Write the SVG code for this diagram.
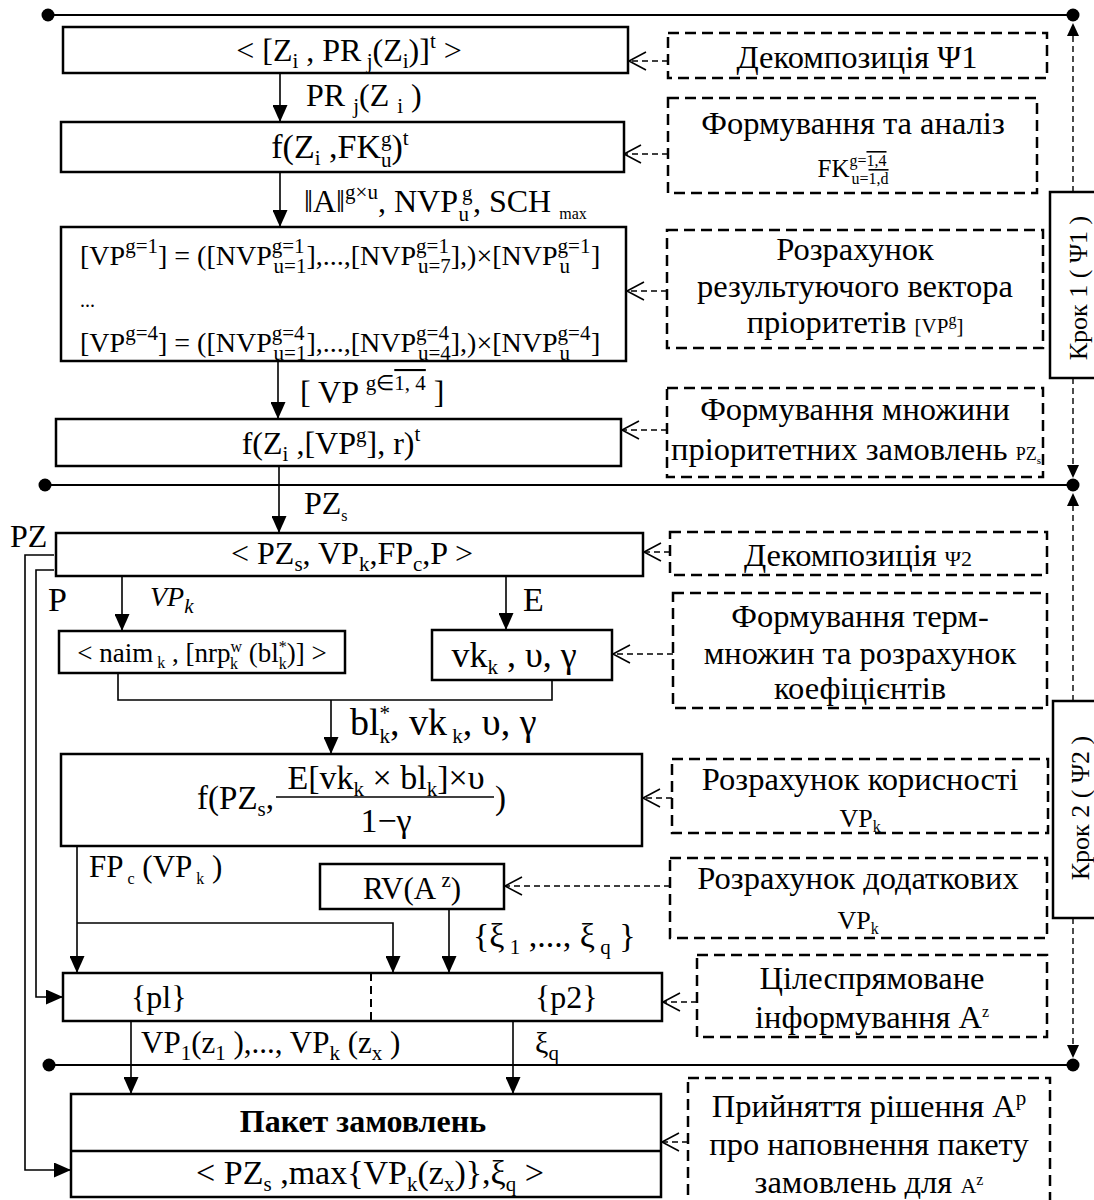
<svg xmlns="http://www.w3.org/2000/svg" width="1094" height="1200" viewBox="0 0 1094 1200">
<style>
.t{font-family:"Liberation Serif","Times New Roman",serif;font-size:32px;fill:#000}
.r{font-size:32.5px}
.b{fill:#fff;stroke:#000;stroke-width:2.5}
.d{fill:none;stroke:#000;stroke-width:2.5;stroke-dasharray:11 6}
.c{fill:none;stroke:#000;stroke-width:1.6}
.cd{fill:none;stroke:#000;stroke-width:1.4;stroke-dasharray:6 4}
.sep{fill:none;stroke:#000;stroke-width:2}
.s{font-size:21px}
.ss{font-size:16px}
</style>
<defs>
<marker id="fa" markerUnits="userSpaceOnUse" markerWidth="18" markerHeight="15" refX="17" refY="7.5" orient="auto"><path d="M0,0 L17,7.5 L0,15 z" fill="#000"/></marker>
<marker id="oa" markerUnits="userSpaceOnUse" markerWidth="20" markerHeight="22" refX="18" refY="11" orient="auto"><path d="M1,2 L18,11 L1,20" fill="none" stroke="#000" stroke-width="1.6"/></marker>
<marker id="sa" markerUnits="userSpaceOnUse" markerWidth="14" markerHeight="12" refX="13" refY="6" orient="auto"><path d="M0,0 L13,6 L0,12 z" fill="#000"/></marker>
</defs>
<rect width="1094" height="1200" fill="#fff"/>

<g id="separators">
<line class="sep" x1="48" y1="15" x2="1073" y2="15"/>
<circle cx="48" cy="15" r="6.5"/><circle cx="1073" cy="15" r="6.5"/>
<line class="sep" x1="45" y1="485" x2="1073" y2="485"/>
<circle cx="45" cy="485" r="6.5"/><circle cx="1073" cy="485" r="6.5"/>
<line class="sep" x1="49" y1="1065" x2="1073" y2="1065"/>
<circle cx="49" cy="1065" r="6.5"/><circle cx="1073" cy="1065" r="6.5"/>
</g>

<g id="connectors">
<line class="c" x1="280" y1="73" x2="280" y2="122" marker-end="url(#fa)"/>
<line class="c" x1="280" y1="172" x2="280" y2="227" marker-end="url(#fa)"/>
<line class="c" x1="278" y1="361" x2="278" y2="419" marker-end="url(#fa)"/>
<line class="c" x1="279" y1="466" x2="279" y2="533" marker-end="url(#fa)"/>
<line class="c" x1="122" y1="576" x2="122" y2="631" marker-end="url(#fa)"/>
<line class="c" x1="506" y1="576" x2="506" y2="630" marker-end="url(#fa)"/>
<polyline class="c" points="118,673 118,700 552,700 552,680"/>
<line class="c" x1="331" y1="700" x2="331" y2="754" marker-end="url(#fa)"/>
<line class="c" x1="77" y1="846" x2="77" y2="973" marker-end="url(#fa)"/>
<polyline class="c" points="77,923 393,923 393,973" marker-end="url(#fa)"/>
<line class="c" x1="449" y1="909" x2="449" y2="973" marker-end="url(#fa)"/>
<line class="c" x1="131" y1="1021" x2="131" y2="1094" marker-end="url(#fa)"/>
<line class="c" x1="513" y1="1021" x2="513" y2="1094" marker-end="url(#fa)"/>
<polyline class="c" points="54,570 36,570 36,997 63,997" marker-end="url(#fa)"/>
<polyline class="c" points="54,555 25,555 25,1170 71,1170" marker-end="url(#fa)"/>

<line class="cd" x1="668" y1="61" x2="629" y2="61" marker-end="url(#oa)"/>
<line class="cd" x1="668" y1="154" x2="624" y2="154" marker-end="url(#oa)"/>
<line class="cd" x1="667" y1="291" x2="627" y2="291" marker-end="url(#oa)"/>
<line class="cd" x1="667" y1="430" x2="622" y2="430" marker-end="url(#oa)"/>
<line class="cd" x1="670" y1="552" x2="644" y2="552" marker-end="url(#oa)"/>
<line class="cd" x1="673" y1="654" x2="613" y2="654" marker-end="url(#oa)"/>
<line class="cd" x1="672" y1="798" x2="643" y2="798" marker-end="url(#oa)"/>
<line class="cd" x1="670" y1="886" x2="505" y2="886" marker-end="url(#oa)"/>
<line class="cd" x1="697" y1="1002" x2="663" y2="1002" marker-end="url(#oa)"/>
<line class="cd" x1="688" y1="1142" x2="662" y2="1142" marker-end="url(#oa)"/>

<line class="cd" x1="1073" y1="192" x2="1073" y2="23" marker-end="url(#sa)"/>
<line class="cd" x1="1073" y1="378" x2="1073" y2="478" marker-end="url(#sa)"/>
<line class="cd" x1="1073" y1="701" x2="1073" y2="493" marker-end="url(#sa)"/>
<line class="cd" x1="1073" y1="918" x2="1073" y2="1058" marker-end="url(#sa)"/>
</g>

<g id="box1">
<rect class="b" x="63" y="27" width="565" height="46"/>
<text class="t" x="349" y="61" text-anchor="middle">&lt; [Z<tspan class="s" dy="7">i</tspan><tspan dy="-7"> , PR</tspan><tspan class="s" dy="7"> j</tspan><tspan dy="-7">(Z</tspan><tspan class="s" dy="7">i</tspan><tspan dy="-7">)]</tspan><tspan class="s" dy="-13">t</tspan><tspan dy="13"> &gt;</tspan></text>
</g>
<g id="label-pr">
<text class="t" x="306" y="106">PR <tspan class="s" dy="7"> j</tspan><tspan dy="-7">(Z </tspan><tspan class="s" dy="7">i</tspan><tspan dy="-7"> )</tspan></text>
</g>

<g id="box2">
<rect class="b" x="61" y="122" width="563" height="50"/>
<text class="t" x="340" y="158" text-anchor="middle" style="font-size:34px">f(Z<tspan class="s" dy="7">i</tspan><tspan dy="-7"> ,FK</tspan><tspan class="s" dy="-12">g</tspan><tspan class="s" dx="-10.5" dy="21">u</tspan><tspan dy="-9">)</tspan><tspan class="s" dy="-13">t</tspan><tspan dy="13"></tspan></text>
</g>
<g id="label-a">
<text class="t" x="304" y="212">‖A‖<tspan class="s" dy="-13">g×u</tspan><tspan dy="13">, NVP</tspan><tspan class="s" dx="4" dy="-12">g</tspan><tspan class="s" dx="-14" dy="21">u</tspan><tspan dx="4" dy="-9">, SCH </tspan><tspan class="ss" dy="7"> max</tspan></text>
</g>

<g id="box3">
<rect class="b" x="61" y="227" width="565" height="134"/>
<text class="t" x="80" y="265" style="font-size:28px">[VP<tspan class="s" dy="-12">g=1</tspan><tspan dy="12">] = ([NVP</tspan><tspan class="s" dy="-12">g=1</tspan><tspan class="s" dx="-31" dy="20">u=1</tspan><tspan dy="-8">],...,[NVP</tspan><tspan class="s" dy="-12">g=1</tspan><tspan class="s" dx="-31" dy="20">u=7</tspan><tspan dy="-8">],)×[NVP</tspan><tspan class="s" dy="-12">g=1</tspan><tspan class="s" dx="-31" dy="20">u</tspan><tspan dx="21" dy="-8">]</tspan></text>
<text class="t" x="80" y="307" style="font-size:20px">...</text>
<text class="t" x="80" y="352" style="font-size:28px">[VP<tspan class="s" dy="-12">g=4</tspan><tspan dy="12">] = ([NVP</tspan><tspan class="s" dy="-12">g=4</tspan><tspan class="s" dx="-31" dy="20">u=1</tspan><tspan dy="-8">],...,[NVP</tspan><tspan class="s" dy="-12">g=4</tspan><tspan class="s" dx="-31" dy="20">u=4</tspan><tspan dy="-8">],)×[NVP</tspan><tspan class="s" dy="-12">g=4</tspan><tspan class="s" dx="-31" dy="20">u</tspan><tspan dx="21" dy="-8">]</tspan></text>
</g>
<g id="label-vp">
<text class="t" x="300" y="403">[ VP <tspan class="s" dy="-13">g∈</tspan><tspan class="s" style="text-decoration:overline">1, 4</tspan><tspan dy="13"> ]</tspan></text>
</g>

<g id="box4">
<rect class="b" x="56" y="419" width="565" height="47"/>
<text class="t" x="331" y="454" text-anchor="middle">f(Z<tspan class="s" dy="7">i</tspan><tspan dy="-7"> ,[VP</tspan><tspan class="s" dy="-12">g</tspan><tspan dy="12">], r)</tspan><tspan class="s" dy="-13">t</tspan><tspan dy="13"></tspan></text>
</g>
<g id="label-pzs">
<text class="t" x="304" y="514">PZ<tspan class="ss" dy="7">s</tspan></text>
</g>

<g id="box5">
<rect class="b" x="56" y="533" width="587" height="43"/>
<text class="t" x="352" y="564" text-anchor="middle">&lt; PZ<tspan class="s" dy="7">s</tspan><tspan dy="-7">, VP</tspan><tspan class="s" dy="7">k</tspan><tspan dy="-7">,FP</tspan><tspan class="s" dy="7">c</tspan><tspan dy="-7">,P &gt;</tspan></text>
</g>
<g id="labels-split">
<text class="t" x="10" y="547">PZ</text>
<text class="t" x="48" y="611" style="font-size:34px">P</text>
<text class="t" x="150" y="606" style="font-style:italic;font-size:28px">VP<tspan class="s" dy="7">k</tspan></text>
<text class="t" x="523" y="611" style="font-size:34px">E</text>
</g>

<g id="box6">
<rect class="b" x="59" y="631" width="286" height="42"/>
<text class="t" x="202" y="662" text-anchor="middle" style="font-size:27px">&lt; naim<tspan class="ss" dy="6"> k</tspan><tspan dy="-6"> , [nrp</tspan><tspan class="ss" dy="-10">w</tspan><tspan class="ss" dx="-12" dy="17">k</tspan><tspan dx="4" dy="-7">  (bl</tspan><tspan class="ss" dy="-10">*</tspan><tspan class="ss" dx="-8" dy="17">k</tspan><tspan dy="-7">)] &gt;</tspan></text>
</g>
<g id="box7">
<rect class="b" x="432" y="630" width="180" height="50"/>
<text class="t" x="514" y="667" text-anchor="middle" style="font-size:36px">vk<tspan class="s" dy="7">k</tspan><tspan dy="-7"> , υ, γ</tspan></text>
</g>
<g id="label-bl">
<text class="t" x="350" y="735" style="font-size:38px">bl<tspan class="s" dy="-15">*</tspan><tspan class="s" dx="-10.5" dy="23">k</tspan><tspan dy="-8">, vk</tspan><tspan class="s" dy="8"> k</tspan><tspan dy="-8">, υ, γ</tspan></text>
</g>

<g id="box8">
<rect class="b" x="61" y="754" width="581" height="92"/>
<text class="t" x="274" y="809" text-anchor="end" style="font-size:33px">f(PZ<tspan class="s" dy="7">s</tspan><tspan dy="-7">,</tspan></text>
<text class="t" x="386" y="789" text-anchor="middle" style="font-size:34px">E[vk<tspan class="s" dy="7">k</tspan><tspan dy="-7"> × bl</tspan><tspan class="s" dy="7">k</tspan><tspan dy="-7">]×υ</tspan></text>
<line x1="276" y1="797" x2="494" y2="797" stroke="#000" stroke-width="1.5"/>
<text class="t" x="386" y="832" text-anchor="middle" style="font-size:34px">1−γ</text>
<text class="t" x="495" y="809" style="font-size:33px">)</text>
</g>
<g id="label-fp">
<text class="t" x="89" y="877" style="font-size:31px">FP<tspan class="ss" dy="7"> c</tspan><tspan dy="-7">  (VP</tspan><tspan class="ss" dy="7"> k</tspan><tspan dy="-7"> )</tspan></text>
</g>

<g id="box-rv">
<rect class="b" x="320" y="864" width="184" height="45"/>
<text class="t" x="412" y="899" text-anchor="middle" style="font-size:31px">RV(A<tspan class="s" dy="-12"> z</tspan><tspan dy="12">)</tspan></text>
</g>
<g id="label-xi">
<text class="t" x="473" y="947" style="font-size:34px">{ξ<tspan class="s" dy="7"> 1</tspan><tspan dy="-7"> ,...,  ξ</tspan><tspan class="s" dy="7"> q</tspan><tspan dy="-7"> }</tspan></text>
</g>

<g id="box9">
<rect class="b" x="63" y="973" width="599" height="48"/>
<line x1="371" y1="973" x2="371" y2="1021" stroke="#000" stroke-width="2" stroke-dasharray="8 5"/>
<text class="t" x="131" y="1008">{pl}</text>
<text class="t" x="535" y="1008">{p2}</text>
</g>
<g id="label-out">
<text class="t" x="141" y="1053" style="font-size:31px">VP<tspan class="s" dy="7">1</tspan><tspan dy="-7">(z</tspan><tspan class="s" dy="7">1</tspan><tspan dy="-7"> ),...,  VP</tspan><tspan class="s" dy="7">k</tspan><tspan dy="-7"> (z</tspan><tspan class="s" dy="7">x</tspan><tspan dy="-7"> )</tspan></text>
<text class="t" x="535" y="1053" style="font-size:30px">ξ<tspan class="s" dy="7">q</tspan></text>
</g>

<g id="box10">
<rect class="b" x="71" y="1094" width="590" height="103"/>
<line x1="71" y1="1151" x2="661" y2="1151" stroke="#000" stroke-width="2.5"/>
<text class="t" x="363" y="1132" text-anchor="middle" style="font-weight:bold">Пакет замовлень</text>
<text class="t" x="370" y="1184" text-anchor="middle" style="font-size:34px">&lt; PZ<tspan class="s" dy="7">s</tspan><tspan dy="-7"> ,max{VP</tspan><tspan class="s" dy="7">k</tspan><tspan dy="-7">(z</tspan><tspan class="s" dy="7">x</tspan><tspan dy="-7">)},ξ</tspan><tspan class="s" dy="7">q</tspan><tspan dy="-7"> &gt;</tspan></text>
</g>

<g id="d1">
<rect class="d" x="668" y="33" width="379" height="45"/>
<text class="t r" x="857" y="68" text-anchor="middle">Декомпозиція Ψ1</text>
</g>
<g id="d2">
<rect class="d" x="668" y="98" width="369" height="95"/>
<text class="t r" x="853" y="134" text-anchor="middle">Формування та аналіз</text>
<text class="t" x="853" y="177" text-anchor="middle" style="font-size:25px">FK<tspan class="ss" dy="-11">g=</tspan><tspan class="ss" style="text-decoration:overline">1,4</tspan><tspan class="ss" dx="-35" dy="18">u=</tspan><tspan class="ss" style="text-decoration:overline">1,d</tspan><tspan dy="-7"></tspan></text>
</g>
<g id="d3">
<rect class="d" x="667" y="230" width="376" height="118"/>
<text class="t r" x="855" y="260" text-anchor="middle">Розрахунок</text>
<text class="t r" x="855" y="297" text-anchor="middle">результуючого вектора</text>
<text class="t r" x="855" y="333" text-anchor="middle">пріоритетів <tspan style="font-size:21px">[VP</tspan><tspan class="ss" dy="-8">g</tspan><tspan style="font-size:21px" dy="8">]</tspan></text>
</g>
<g id="d4">
<rect class="d" x="667" y="388" width="376" height="89"/>
<text class="t r" x="855" y="420" text-anchor="middle">Формування множини</text>
<text class="t r" x="856" y="460" text-anchor="middle">пріоритетних замовлень <tspan style="font-size:18px">PZ</tspan><tspan style="font-size:11px" dy="4">s</tspan></text>
</g>
<g id="d5">
<rect class="d" x="670" y="532" width="377" height="43"/>
<text class="t r" x="858" y="566" text-anchor="middle">Декомпозиція <tspan style="font-size:22px">Ψ2</tspan></text>
</g>
<g id="d6">
<rect class="d" x="673" y="593" width="374" height="115"/>
<text class="t r" x="860" y="627" text-anchor="middle">Формування терм-</text>
<text class="t r" x="860" y="664" text-anchor="middle">множин та розрахунок</text>
<text class="t r" x="860" y="699" text-anchor="middle">коефіцієнтів</text>
</g>
<g id="d7">
<rect class="d" x="672" y="759" width="376" height="74"/>
<text class="t r" x="860" y="790" text-anchor="middle">Розрахунок корисності</text>
<text class="t" x="860" y="827" text-anchor="middle" style="font-size:26px">VP<tspan class="ss" dy="5">k</tspan></text>
</g>
<g id="d8">
<rect class="d" x="670" y="858" width="377" height="80"/>
<text class="t r" x="858" y="889" text-anchor="middle">Розрахунок додаткових</text>
<text class="t" x="858" y="929" text-anchor="middle" style="font-size:26px">VP<tspan class="ss" dy="5">k</tspan></text>
</g>
<g id="d9">
<rect class="d" x="697" y="955" width="350" height="82"/>
<text class="t r" x="872" y="989" text-anchor="middle">Цілеспрямоване</text>
<text class="t r" x="872" y="1028" text-anchor="middle">інформування A<tspan class="ss" dy="-11">z</tspan></text>
</g>
<g id="d10">
<rect class="d" x="688" y="1078" width="362" height="130"/>
<text class="t r" x="869" y="1117" text-anchor="middle">Прийняття рішення A<tspan class="s" dy="-12">p</tspan></text>
<text class="t r" x="869" y="1155" text-anchor="middle">про наповнення пакету</text>
<text class="t r" x="869" y="1193" text-anchor="middle">замовлень для <tspan style="font-size:22px">A</tspan><tspan class="ss" dy="-8">z</tspan></text>
</g>

<g id="krok1">
<rect class="b" x="1050" y="192" width="60" height="186"/>
<text class="t" transform="translate(1087,288) rotate(-90)" text-anchor="middle" style="font-size:26px">Крок 1 ( Ψ1 )</text>
</g>
<g id="krok2">
<rect class="b" x="1053" y="701" width="60" height="217"/>
<text class="t" transform="translate(1089,808) rotate(-90)" text-anchor="middle" style="font-size:26px">Крок 2 ( Ψ2 )</text>
</g>
</svg>
